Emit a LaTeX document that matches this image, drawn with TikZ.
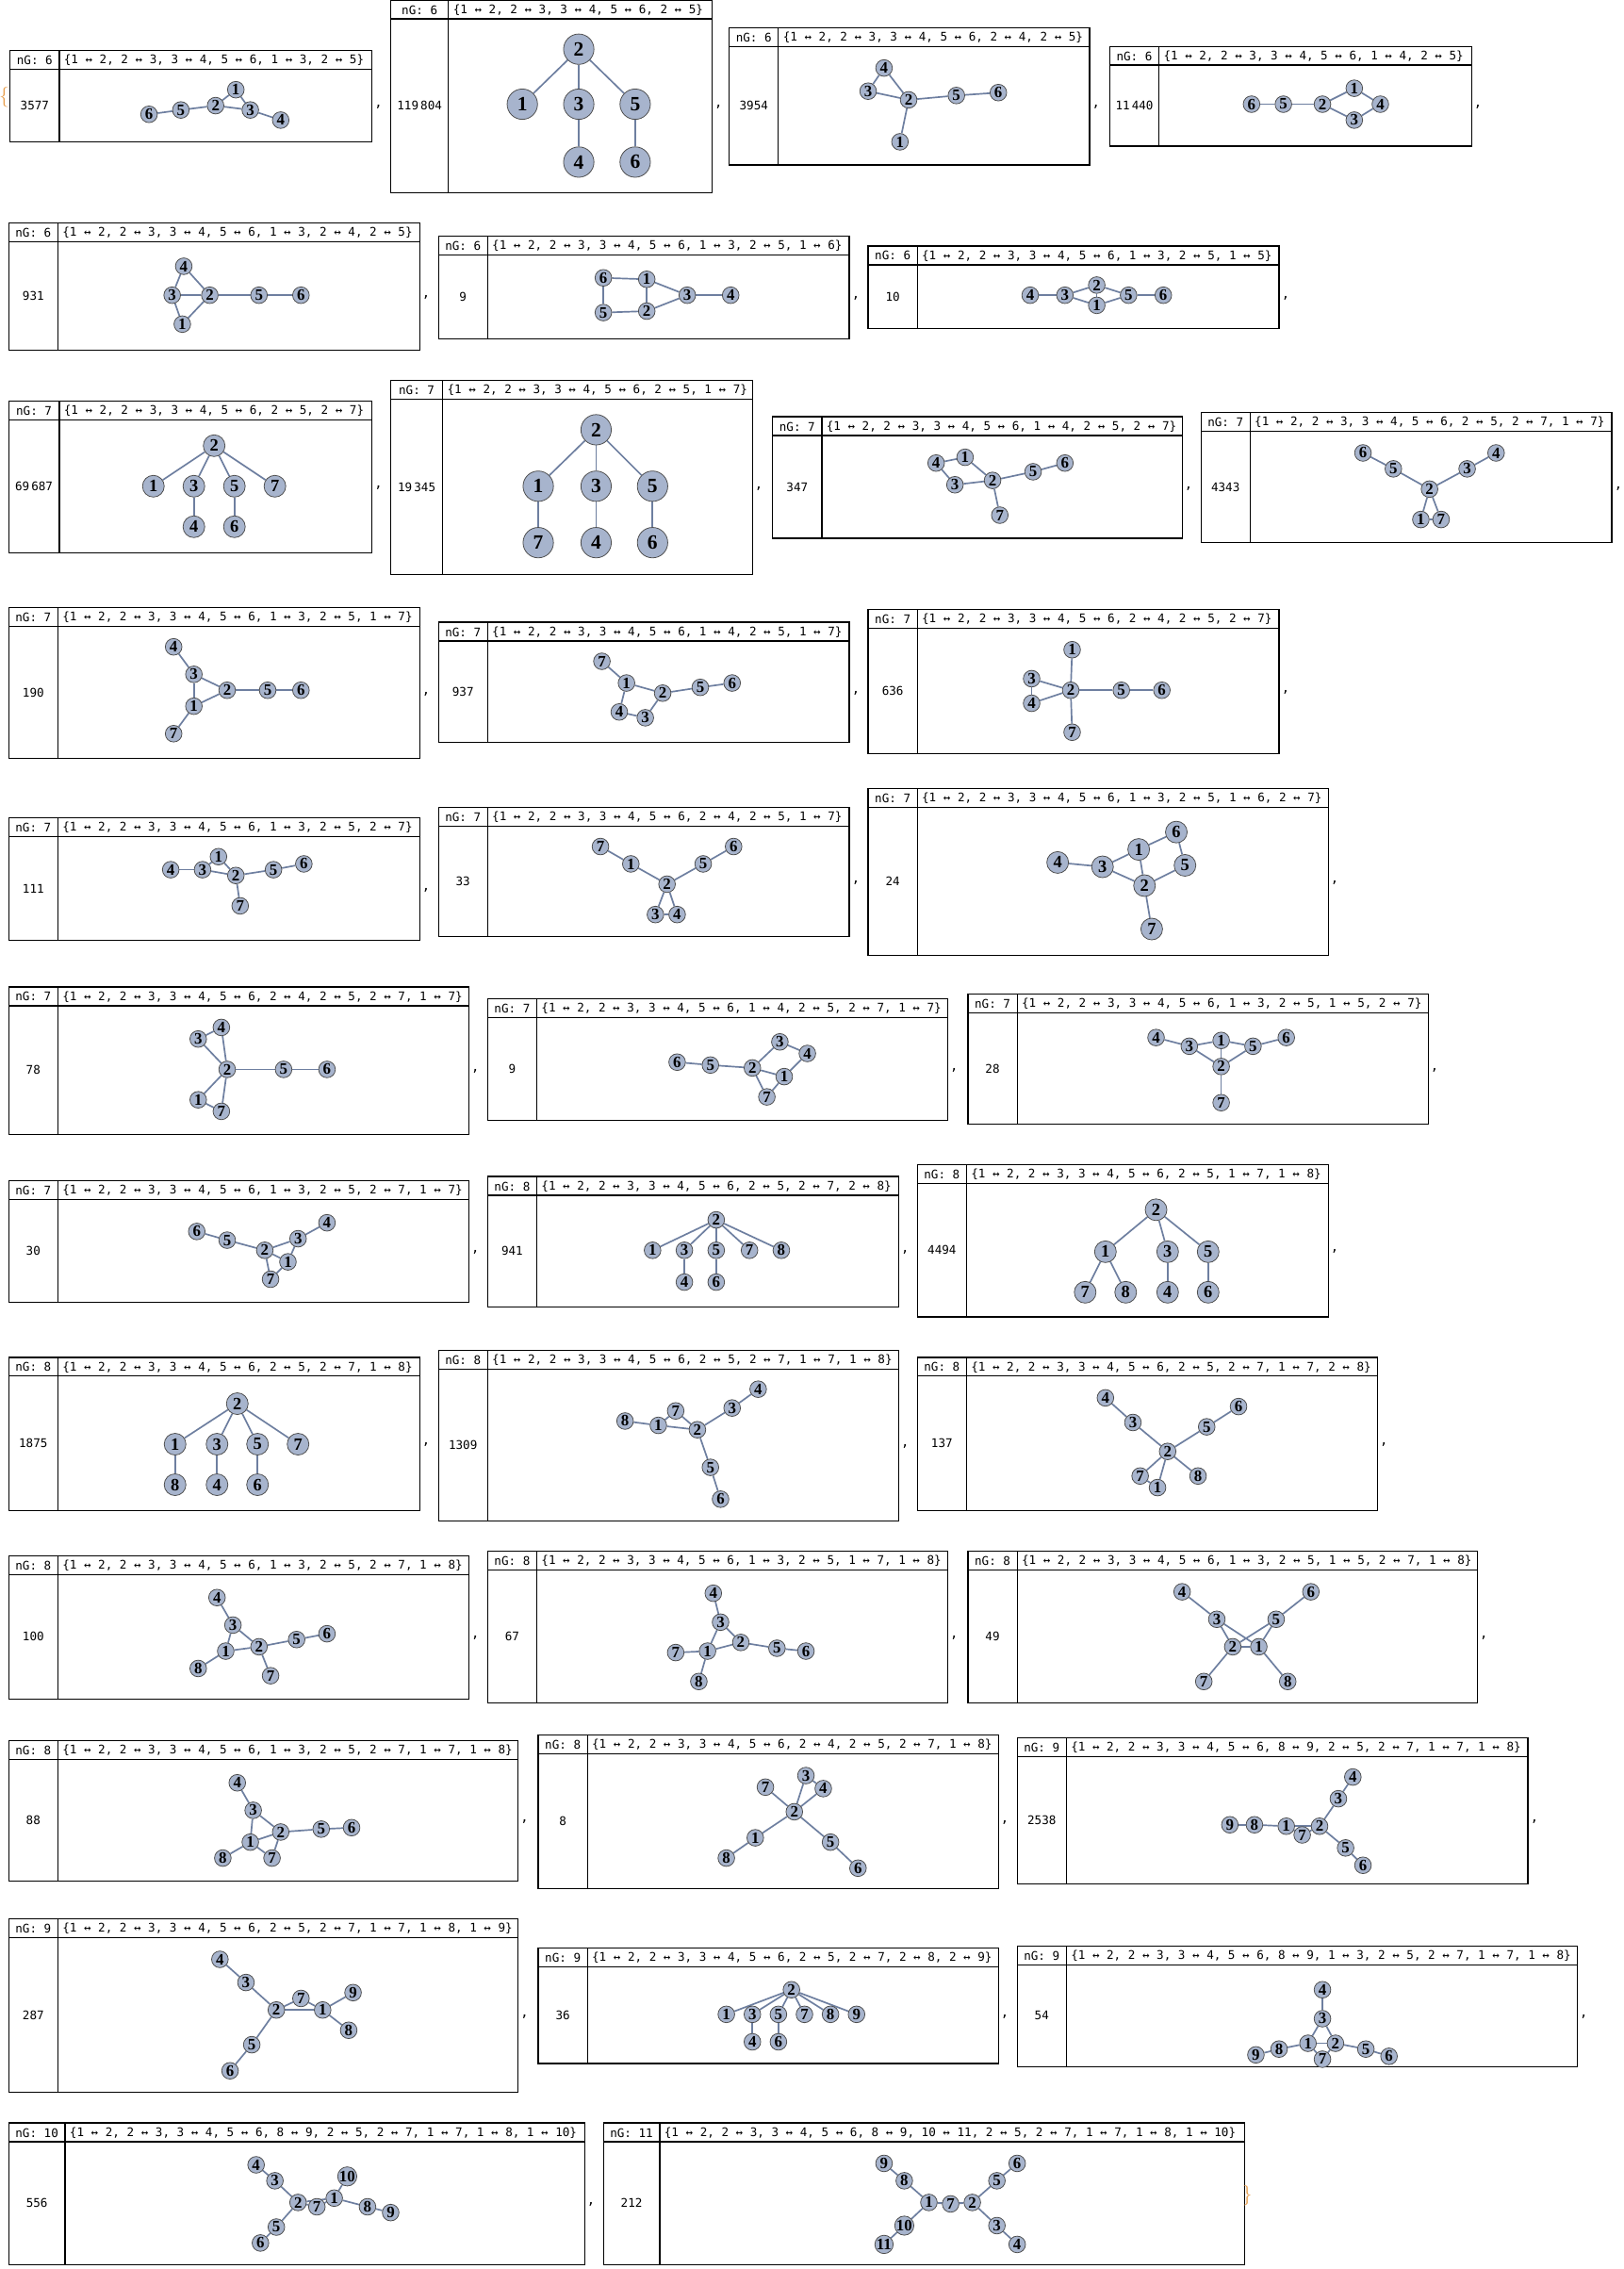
\documentclass[tikz,border=0pt]{standalone}
\usepackage{fontspec}
\newfontfamily\hm{DejaVu Sans Mono}
\newfontfamily\nf{Liberation Serif}
\usetikzlibrary{backgrounds}
\definecolor{vfill}{HTML}{A7B4CD}
\definecolor{edc}{HTML}{6E7FA0}
\definecolor{brc}{HTML}{E8A050}
\tikzset{
 boxl/.style={draw=black,line width=0.8pt},
 hd/.style={font=\hm\fontsize{8.2}{8.6}\selectfont,inner sep=0pt},
 vs/.style={circle,draw=black!70,fill=vfill,line width=0.5pt,minimum size=11.5pt,inner sep=0pt,font=\nf\bfseries\fontsize{11}{11}\selectfont},
 vm/.style={vs,minimum size=15pt,font=\nf\bfseries\fontsize{12}{12}\selectfont},
 vl/.style={vs,minimum size=21pt,font=\nf\bfseries\fontsize{14}{14}\selectfont},
 ed/.style={draw=edc,line width=1.1pt},
 commast/.style={font=\hm\fontsize{9}{9}\selectfont,inner sep=0pt}
}
\newcommand\gb[9]{%
 \draw[boxl] (#2,#3) rectangle (#4,#5);
 \draw[boxl] (#2,#3+13) -- (#4,#3+13);
 \draw[boxl] (#6,#3) -- (#6,#5);
 \node[hd] (#1h) at ({(#2+#6)/2},#3+6.8) {nG: #7};
 \node[hd,anchor=west] (#1e) at (#6+3,#3+6.8) {#8};
 \node[hd] (#1n) at ({(#2+#6)/2},{(#3+13+#5)/2}) {#9};
 \node[commast] (#1c) at (#4+4.5,{(#3+13+#5)/2+1}) {,};
}
\newcommand\gr[4]{%
 \foreach \n/\x/\y in {#3} \node[#2] (#1-\n) at (\x,\y) {\n};
 \begin{pgfonlayer}{background}
 \foreach \a/\b in {#4} \draw[ed] (#1-\a)--(#1-\b);
 \end{pgfonlayer}}
\begin{document}
\begin{tikzpicture}[x=1pt,y=-1pt]
\begin{pgfonlayer}{background}
\fill[white] (0,0) rectangle (1122,1568);
\end{pgfonlayer}
\useasboundingbox (0,0) rectangle (1122,1568);
\node[font=\fontsize{14}{14}\selectfont,text=brc,inner sep=0pt] (lb) at (3,67) {\{};
% Row 1
\gb{a}{7}{35}{257}{98}{41}{6}{\{1 ↔ 2, 2 ↔ 3, 3 ↔ 4, 5 ↔ 6, 1 ↔ 3, 2 ↔ 5\}}{3577}
\gr{a}{vs}{6/103/79,5/125/76,2/149/73,1/163/62,3/173/76,4/194/83}{1/2,2/3,3/4,5/6,1/3,2/5}
\gb{b}{270}{0}{492}{133}{310}{6}{\{1 ↔ 2, 2 ↔ 3, 3 ↔ 4, 5 ↔ 6, 2 ↔ 5\}}{119\,804}
\gr{b}{vl}{2/400/34,1/361/72,3/400/72,5/439/72,4/400/112,6/439/112}{1/2,2/3,3/4,5/6,2/5}
\gb{c}{504}{19}{753}{114}{538}{6}{\{1 ↔ 2, 2 ↔ 3, 3 ↔ 4, 5 ↔ 6, 2 ↔ 4, 2 ↔ 5\}}{3954}
\gr{c}{vs}{4/611/47,3/600/63,2/628/69,5/661/66,6/690/64,1/622/98}{1/2,2/3,3/4,5/6,2/4,2/5}
\gb{d}{767}{32}{1017}{101}{801}{6}{\{1 ↔ 2, 2 ↔ 3, 3 ↔ 4, 5 ↔ 6, 1 ↔ 4, 2 ↔ 5\}}{11\,440}
\gr{d}{vs}{6/865/72,5/887/72,2/914/72,1/936/61,4/954/72,3/936/83}{1/2,2/3,3/4,5/6,1/4,2/5}
% Row 2
\gb{e}{6}{154}{290}{242}{40}{6}{\{1 ↔ 2, 2 ↔ 3, 3 ↔ 4, 5 ↔ 6, 1 ↔ 3, 2 ↔ 4, 2 ↔ 5\}}{931}
\gr{e}{vs}{4/127/184,3/119/204,2/145/204,5/179/204,6/208/204,1/126/224}{1/2,2/3,3/4,5/6,1/3,2/4,2/5}
\gb{f}{303}{163}{587}{234}{337}{6}{\{1 ↔ 2, 2 ↔ 3, 3 ↔ 4, 5 ↔ 6, 1 ↔ 3, 2 ↔ 5, 1 ↔ 6\}}{9}
\gr{f}{vs}{6/417/192,1/447/193,3/475/204,4/505/204,5/417/216,2/447/215}{1/2,2/3,3/4,5/6,1/3,2/5,1/6}
\gb{g}{600}{170}{884}{227}{634}{6}{\{1 ↔ 2, 2 ↔ 3, 3 ↔ 4, 5 ↔ 6, 1 ↔ 3, 2 ↔ 5, 1 ↔ 5\}}{10}
\gr{g}{vs}{4/712/204,3/736/204,2/758/197,1/758/211,5/780/204,6/804/204}{1/2,2/3,3/4,5/6,1/3,2/5,1/5}
% Row 3
\gb{h}{6}{277}{257}{382}{41}{7}{\{1 ↔ 2, 2 ↔ 3, 3 ↔ 4, 5 ↔ 6, 2 ↔ 5, 2 ↔ 7\}}{69\,687}
\gr{h}{vm}{2/148/308,1/106/336,3/134/336,5/162/336,7/190/336,4/134/364,6/162/364}{1/2,2/3,3/4,5/6,2/5,2/7}
\gb{i}{270}{263}{520}{397}{306}{7}{\{1 ↔ 2, 2 ↔ 3, 3 ↔ 4, 5 ↔ 6, 2 ↔ 5, 1 ↔ 7\}}{19\,345}
\gr{i}{vl}{2/412/297,1/372/336,3/412/336,5/451/336,7/372/375,4/412/375,6/451/375}{1/2,2/3,3/4,5/6,2/5,1/7}
\gb{j}{534}{288}{817}{372}{568}{7}{\{1 ↔ 2, 2 ↔ 3, 3 ↔ 4, 5 ↔ 6, 1 ↔ 4, 2 ↔ 5, 2 ↔ 7\}}{347}
\gr{j}{vs}{4/647/320,1/667/316,3/660/335,2/686/332,5/714/326,6/736/320,7/691/356}{1/2,2/3,3/4,5/6,1/4,2/5,2/7}
\gb{k}{830}{285}{1114}{375}{864}{7}{\{1 ↔ 2, 2 ↔ 3, 3 ↔ 4, 5 ↔ 6, 2 ↔ 5, 2 ↔ 7, 1 ↔ 7\}}{4343}
\gr{k}{vs}{6/942/313,5/963/324,2/988/338,3/1014/324,4/1034/313,1/982/359,7/996/359}{1/2,2/3,3/4,5/6,2/5,2/7,1/7}
% Row 4
\gb{l}{6}{420}{290}{524}{40}{7}{\{1 ↔ 2, 2 ↔ 3, 3 ↔ 4, 5 ↔ 6, 1 ↔ 3, 2 ↔ 5, 1 ↔ 7\}}{190}
\gr{l}{vs}{4/120/447,3/134/466,2/157/477,5/185/477,6/208/477,1/134/488,7/120/507}{1/2,2/3,3/4,5/6,1/3,2/5,1/7}
\gb{m}{303}{430}{587}{513}{337}{7}{\{1 ↔ 2, 2 ↔ 3, 3 ↔ 4, 5 ↔ 6, 1 ↔ 4, 2 ↔ 5, 1 ↔ 7\}}{937}
\gr{m}{vs}{7/416/457,1/433/472,2/458/479,5/484/475,6/506/472,4/428/492,3/446/496}{1/2,2/3,3/4,5/6,1/4,2/5,1/7}
\gb{n}{600}{421}{884}{521}{634}{7}{\{1 ↔ 2, 2 ↔ 3, 3 ↔ 4, 5 ↔ 6, 2 ↔ 4, 2 ↔ 5, 2 ↔ 7\}}{636}
\gr{n}{vs}{1/741/449,3/713/469,2/740/477,5/775/477,6/803/477,4/713/486,7/741/506}{1/2,2/3,3/4,5/6,2/4,2/5,2/7}
% Row 5
\gb{o}{6}{565}{290}{650}{40}{7}{\{1 ↔ 2, 2 ↔ 3, 3 ↔ 4, 5 ↔ 6, 1 ↔ 3, 2 ↔ 5, 2 ↔ 7\}}{111}
\gr{o}{vs}{4/118/601,3/140/601,1/151/592,2/163/605,5/189/601,6/210/597,7/166/626}{1/2,2/3,3/4,5/6,1/3,2/5,2/7}
\gb{p}{303}{558}{587}{647}{337}{7}{\{1 ↔ 2, 2 ↔ 3, 3 ↔ 4, 5 ↔ 6, 2 ↔ 4, 2 ↔ 5, 1 ↔ 7\}}{33}
\gr{p}{vs}{7/415/585,1/436/597,2/461/611,5/486/597,6/507/585,3/453/632,4/468/632}{1/2,2/3,3/4,5/6,2/4,2/5,1/7}
\gb{q}{600}{545}{918}{660}{634}{7}{\{1 ↔ 2, 2 ↔ 3, 3 ↔ 4, 5 ↔ 6, 1 ↔ 3, 2 ↔ 5, 1 ↔ 6, 2 ↔ 7\}}{24}
\gr{q}{vm}{4/731/596,3/762/599,1/787/587,6/813/575,5/819/598,2/791/612,7/796/642}{1/2,2/3,3/4,5/6,1/3,2/5,1/6,2/7}
% Row 6
\gb{r}{6}{682}{324}{784}{40}{7}{\{1 ↔ 2, 2 ↔ 3, 3 ↔ 4, 5 ↔ 6, 2 ↔ 4, 2 ↔ 5, 2 ↔ 7, 1 ↔ 7\}}{78}
\gr{r}{vs}{3/137/718,4/153/710,2/157/739,5/196/739,6/226/739,1/137/760,7/153/768}{1/2,2/3,3/4,5/6,2/4,2/5,2/7,1/7}
\gb{s}{337}{690}{655}{774}{371}{7}{\{1 ↔ 2, 2 ↔ 3, 3 ↔ 4, 5 ↔ 6, 1 ↔ 4, 2 ↔ 5, 2 ↔ 7, 1 ↔ 7\}}{9}
\gr{s}{vs}{6/468/734,5/491/736,2/520/738,3/539/720,4/558/728,1/542/744,7/530/758}{1/2,2/3,3/4,5/6,1/4,2/5,2/7,1/7}
\gb{t}{669}{687}{987}{777}{703}{7}{\{1 ↔ 2, 2 ↔ 3, 3 ↔ 4, 5 ↔ 6, 1 ↔ 3, 2 ↔ 5, 1 ↔ 5, 2 ↔ 7\}}{28}
\gr{t}{vs}{4/799/717,3/822/723,1/844/719,5/866/723,6/889/717,2/844/737,7/844/762}{1/2,2/3,3/4,5/6,1/3,2/5,1/5,2/7}
% Row 7
\gb{u}{6}{816}{324}{900}{40}{7}{\{1 ↔ 2, 2 ↔ 3, 3 ↔ 4, 5 ↔ 6, 1 ↔ 3, 2 ↔ 5, 2 ↔ 7, 1 ↔ 7\}}{30}
\gr{u}{vs}{6/136/851,5/157/857,2/183/864,3/206/856,4/226/845,1/199/872,7/187/884}{1/2,2/3,3/4,5/6,1/3,2/5,2/7,1/7}
\gb{v}{337}{813}{621}{903}{371}{8}{\{1 ↔ 2, 2 ↔ 3, 3 ↔ 4, 5 ↔ 6, 2 ↔ 5, 2 ↔ 7, 2 ↔ 8\}}{941}
\gr{v}{vs}{2/495/843,1/451/864,3/473/864,5/495/864,7/518/864,8/540/864,4/473/886,6/495/886}{1/2,2/3,3/4,5/6,2/5,2/7,2/8}
\gb{w}{634}{805}{918}{910}{668}{8}{\{1 ↔ 2, 2 ↔ 3, 3 ↔ 4, 5 ↔ 6, 2 ↔ 5, 1 ↔ 7, 1 ↔ 8\}}{4494}
\gr{w}{vm}{2/799/836,1/764/865,3/807/865,5/835/865,7/750/893,8/778/893,4/807/893,6/835/893}{1/2,2/3,3/4,5/6,2/5,1/7,1/8}
% Row 8
\gb{x}{6}{938}{290}{1044}{40}{8}{\{1 ↔ 2, 2 ↔ 3, 3 ↔ 4, 5 ↔ 6, 2 ↔ 5, 2 ↔ 7, 1 ↔ 8\}}{1875}
\gr{x}{vm}{2/164/970,1/121/998,3/150/998,5/178/998,7/206/998,8/121/1026,4/150/1026,6/178/1026}{1/2,2/3,3/4,5/6,2/5,2/7,1/8}
\gb{y}{303}{933}{621}{1051}{337}{8}{\{1 ↔ 2, 2 ↔ 3, 3 ↔ 4, 5 ↔ 6, 2 ↔ 5, 2 ↔ 7, 1 ↔ 7, 1 ↔ 8\}}{1309}
\gr{y}{vs}{8/432/982,1/455/985,7/467/975,2/482/988,3/506/973,4/524/960,5/491/1014,6/498/1036}{1/2,2/3,3/4,5/6,2/5,2/7,1/7,1/8}
\gb{z}{634}{938}{952}{1044}{668}{8}{\{1 ↔ 2, 2 ↔ 3, 3 ↔ 4, 5 ↔ 6, 2 ↔ 5, 2 ↔ 7, 1 ↔ 7, 2 ↔ 8\}}{137}
\gr{z}{vs}{4/764/966,3/783/983,2/807/1003,5/834/986,6/856/972,7/788/1020,1/800/1028,8/828/1020}{1/2,2/3,3/4,5/6,2/5,2/7,1/7,2/8}
% Row 9
\gb{A}{6}{1075}{324}{1174}{40}{8}{\{1 ↔ 2, 2 ↔ 3, 3 ↔ 4, 5 ↔ 6, 1 ↔ 3, 2 ↔ 5, 2 ↔ 7, 1 ↔ 8\}}{100}
\gr{A}{vs}{4/150/1104,3/161/1123,1/156/1141,2/179/1138,5/205/1133,6/226/1129,8/137/1153,7/187/1158}{1/2,2/3,3/4,5/6,1/3,2/5,2/7,1/8}
\gb{B}{337}{1072}{655}{1177}{371}{8}{\{1 ↔ 2, 2 ↔ 3, 3 ↔ 4, 5 ↔ 6, 1 ↔ 3, 2 ↔ 5, 1 ↔ 7, 1 ↔ 8\}}{67}
\gr{B}{vs}{4/493/1101,3/498/1121,2/512/1135,5/537/1139,6/557/1141,1/489/1141,7/467/1142,8/483/1162}{1/2,2/3,3/4,5/6,1/3,2/5,1/7,1/8}
\gb{C}{669}{1072}{1021}{1177}{703}{8}{\{1 ↔ 2, 2 ↔ 3, 3 ↔ 4, 5 ↔ 6, 1 ↔ 3, 2 ↔ 5, 1 ↔ 5, 2 ↔ 7, 1 ↔ 8\}}{49}
\gr{C}{vs}{4/817/1100,3/841/1119,5/882/1119,6/906/1100,2/852/1138,1/870/1138,7/832/1162,8/890/1162}{1/2,2/3,3/4,5/6,1/3,2/5,1/5,2/7,1/8}
% Row 10
\gb{D}{6}{1203}{358}{1300}{40}{8}{\{1 ↔ 2, 2 ↔ 3, 3 ↔ 4, 5 ↔ 6, 1 ↔ 3, 2 ↔ 5, 2 ↔ 7, 1 ↔ 7, 1 ↔ 8\}}{88}
\gr{D}{vs}{4/164/1232,3/175/1251,2/194/1266,5/222/1264,6/243/1263,1/173/1273,8/154/1284,7/188/1284}{1/2,2/3,3/4,5/6,1/3,2/5,2/7,1/7,1/8}
\gb{E}{372}{1199}{690}{1305}{406}{8}{\{1 ↔ 2, 2 ↔ 3, 3 ↔ 4, 5 ↔ 6, 2 ↔ 4, 2 ↔ 5, 2 ↔ 7, 1 ↔ 8\}}{8}
\gr{E}{vs}{7/529/1235,3/557/1227,4/569/1236,2/549/1252,1/522/1270,8/502/1284,5/574/1273,6/593/1291}{1/2,2/3,3/4,5/6,2/4,2/5,2/7,1/8}
\gb{F}{703}{1201}{1056}{1302}{737}{9}{\{1 ↔ 2, 2 ↔ 3, 3 ↔ 4, 5 ↔ 6, 8 ↔ 9, 2 ↔ 5, 2 ↔ 7, 1 ↔ 7, 1 ↔ 8\}}{2538}
\gr{F}{vs}{4/935/1228,3/925/1243,2/912/1262,1/889/1262,8/867/1261,9/850/1261,7/900/1268,5/930/1277,6/942/1289}{1/2,2/3,3/4,5/6,8/9,2/5,2/7,1/7,1/8}
% Row 11
\gb{G}{6}{1326}{358}{1446}{40}{9}{\{1 ↔ 2, 2 ↔ 3, 3 ↔ 4, 5 ↔ 6, 2 ↔ 5, 2 ↔ 7, 1 ↔ 7, 1 ↔ 8, 1 ↔ 9\}}{287}
\gr{G}{vs}{4/152/1354,3/170/1370,2/191/1389,7/208/1381,1/223/1389,9/244/1377,8/241/1403,5/174/1413,6/159/1431}{1/2,2/3,3/4,5/6,2/5,2/7,1/7,1/8,1/9}
\gb{H}{372}{1346}{690}{1426}{406}{9}{\{1 ↔ 2, 2 ↔ 3, 3 ↔ 4, 5 ↔ 6, 2 ↔ 5, 2 ↔ 7, 2 ↔ 8, 2 ↔ 9\}}{36}
\gr{H}{vs}{2/547/1375,1/502/1392,3/520/1392,5/538/1392,7/556/1392,8/574/1392,9/592/1392,4/520/1411,6/538/1411}{1/2,2/3,3/4,5/6,2/5,2/7,2/8,2/9}
\gb{I}{703}{1345}{1090}{1428}{737}{9}{\{1 ↔ 2, 2 ↔ 3, 3 ↔ 4, 5 ↔ 6, 8 ↔ 9, 1 ↔ 3, 2 ↔ 5, 2 ↔ 7, 1 ↔ 7, 1 ↔ 8\}}{54}
\gr{I}{vs}{4/914/1375,3/914/1395,1/904/1412,2/923/1412,7/914/1423,8/884/1416,9/868/1420,5/944/1416,6/960/1421}{1/2,2/3,3/4,5/6,8/9,1/3,2/5,2/7,1/7,1/8}
% Row 12
\gb{J}{6}{1467}{404}{1565}{45}{10}{\{1 ↔ 2, 2 ↔ 3, 3 ↔ 4, 5 ↔ 6, 8 ↔ 9, 2 ↔ 5, 2 ↔ 7, 1 ↔ 7, 1 ↔ 8, 1 ↔ 10\}}{556}
\gr{J}{vs}{4/177/1496,3/190/1507,2/206/1522,7/219/1525,1/231/1519,10/240/1504,8/254/1525,9/270/1529,5/191/1539,6/180/1550}{1/2,2/3,3/4,5/6,8/9,2/5,2/7,1/7,1/8,1/10}
\draw[boxl] (417,1467) rectangle (860,1565);
\draw[boxl] (417,1480) -- (860,1480);
\draw[boxl] (456,1467) -- (456,1565);
\node[hd] (Kh) at (436.5,1473.8) {nG: 11};
\node[hd,anchor=west] (Ke) at (459,1473.8) {\{1 ↔ 2, 2 ↔ 3, 3 ↔ 4, 5 ↔ 6, 8 ↔ 9, 10 ↔ 11, 2 ↔ 5, 2 ↔ 7, 1 ↔ 7, 1 ↔ 8, 1 ↔ 10\}};
\node[hd] (Kn) at (436.5,1522.5) {212};
\gr{K}{vs}{9/611/1495,8/625/1507,1/642/1522,7/657/1523,2/672/1522,5/689/1507,6/703/1495,10/625/1538,11/611/1551,3/689/1538,4/703/1551}{1/2,2/3,3/4,5/6,8/9,10/11,2/5,2/7,1/7,1/8,1/10}
\node[font=\fontsize{14}{14}\selectfont,text=brc,inner sep=0pt] (rb) at (862,1517) {\}};
\end{tikzpicture}
\end{document}
